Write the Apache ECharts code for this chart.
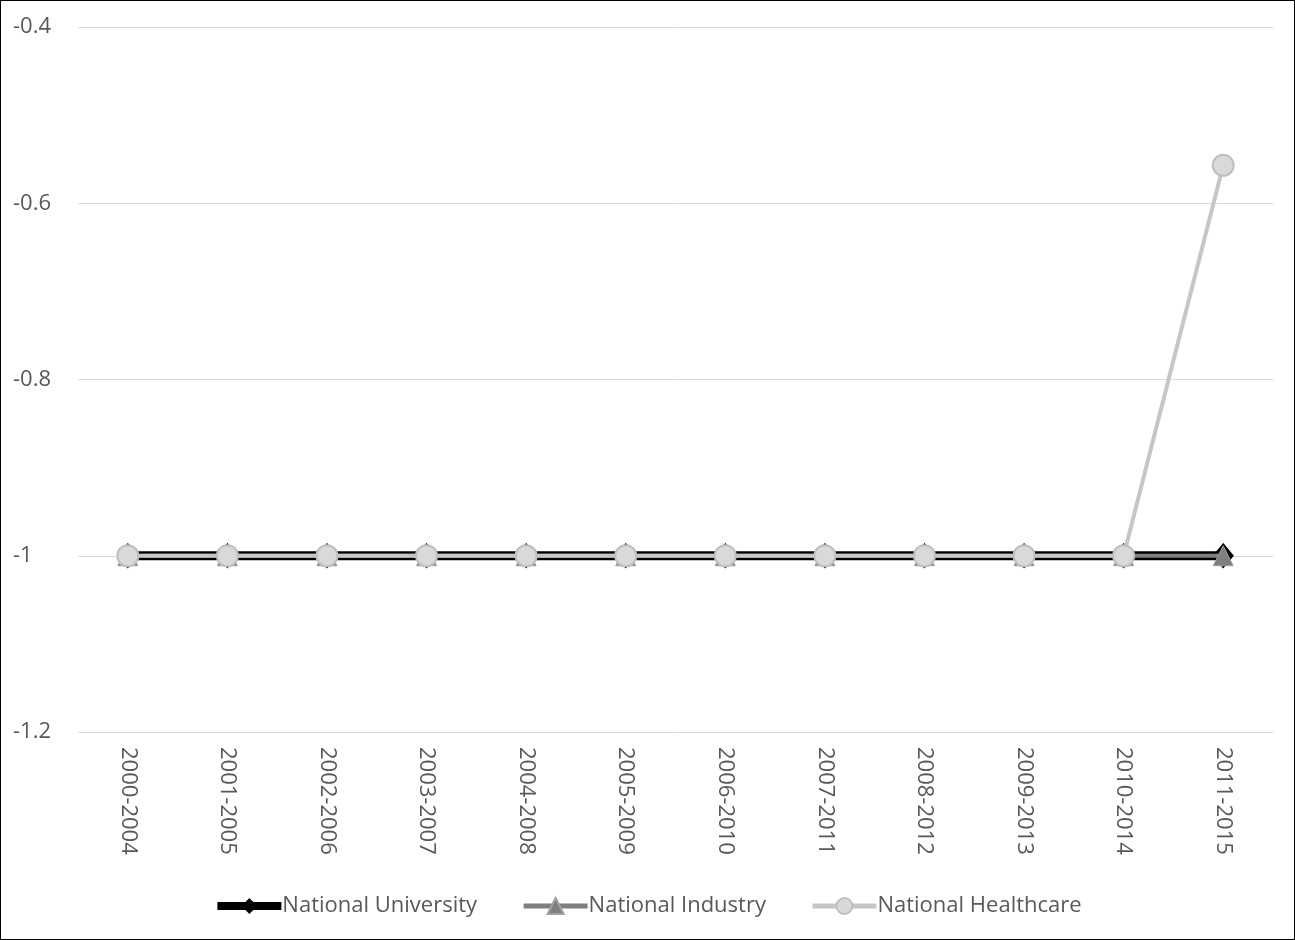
<!DOCTYPE html>
<html>
<head>
<meta charset="utf-8">
<script src="https://cdn.jsdelivr.net/npm/echarts@6/dist/echarts.min.js"></script>
<style>
  html, body { margin: 0; padding: 0; background: #fff; }
  #chart { width: 1293px; height: 938px; border: 1px solid #000; }
</style>
</head>
<body>
<div id="chart"></div>
<script>
const categories = ['2000-2004', '2001-2005', '2002-2006', '2003-2007', '2004-2008', '2005-2009',
  '2006-2010', '2007-2011', '2008-2012', '2009-2013', '2010-2014', '2011-2015'];
const universityValues = [-1, -1, -1, -1, -1, -1, -1, -1, -1, -1, -1, -1];
const industryValues = [-1, -1, -1, -1, -1, -1, -1, -1, -1, -1, -1, -1];
const healthcareValues = [-1, -1, -1, -1, -1, -1, -1, -1, -1, -1, -1, -0.557];
const yTicks = { min: -1.2, max: -0.4, interval: 0.2 };

const textColor = '#595959';
const font = '"Open Sans", "Noto Sans", "DejaVu Sans", sans-serif';
const fontSize = 22;

const chart = echarts.init(document.getElementById('chart'), null, { renderer: 'canvas' });
chart.setOption({
  animation: false,
  backgroundColor: '#fff',
  grid: { left: 77, right: 21, top: 26, bottom: 207, containLabel: false },
  legend: {
    bottom: 17,
    left: 'center',
    itemWidth: 64,
    itemHeight: 20,
    itemGap: 44,
    textStyle: { color: textColor, fontSize: fontSize, fontFamily: font, padding: [0, 0, 0, -4] },
    data: [
      { name: 'National University', lineStyle: { width: 8 } },
      { name: 'National Industry', lineStyle: { width: 5 } },
      { name: 'National Healthcare', lineStyle: { width: 5 } }
    ]
  },
  xAxis: {
    type: 'category',
    data: categories,
    boundaryGap: true,
    axisLine: { show: false },
    axisTick: { show: false },
    axisLabel: { rotate: -90, color: textColor, fontSize: fontSize, fontFamily: font, margin: 15, interval: 0 }
  },
  yAxis: {
    type: 'value',
    min: yTicks.min,
    max: yTicks.max,
    interval: yTicks.interval,
    axisLine: { show: false },
    axisTick: { show: false },
    splitLine: { lineStyle: { color: '#d9d9d9', width: 1 } },
    axisLabel: {
      color: textColor, fontSize: fontSize, fontFamily: font, align: 'left', margin: 65,
      formatter: v => String(Math.round(v * 10) / 10)
    }
  },
  series: [
    {
      name: 'National University',
      type: 'line',
      data: universityValues,
      symbol: 'diamond',
      symbolSize: [20, 24],
      lineStyle: { color: '#000', width: 9 },
      itemStyle: { color: '#000', borderColor: '#000' },
      z: 1
    },
    {
      name: 'National Industry',
      type: 'line',
      data: industryValues,
      symbol: 'triangle',
      symbolSize: 20,
      lineStyle: { color: '#7f7f7f', width: 4 },
      itemStyle: { color: '#7f7f7f', borderColor: '#a0a0a0', borderWidth: 1 },
      z: 2
    },
    {
      name: 'National Healthcare',
      type: 'line',
      data: healthcareValues,
      symbol: 'circle',
      symbolSize: 21,
      lineStyle: { color: '#c6c6c6', width: 4 },
      itemStyle: { color: '#d9d9d9', borderColor: '#bfbfbf', borderWidth: 2 },
      z: 3
    }
  ]
});
</script>
</body>
</html>
